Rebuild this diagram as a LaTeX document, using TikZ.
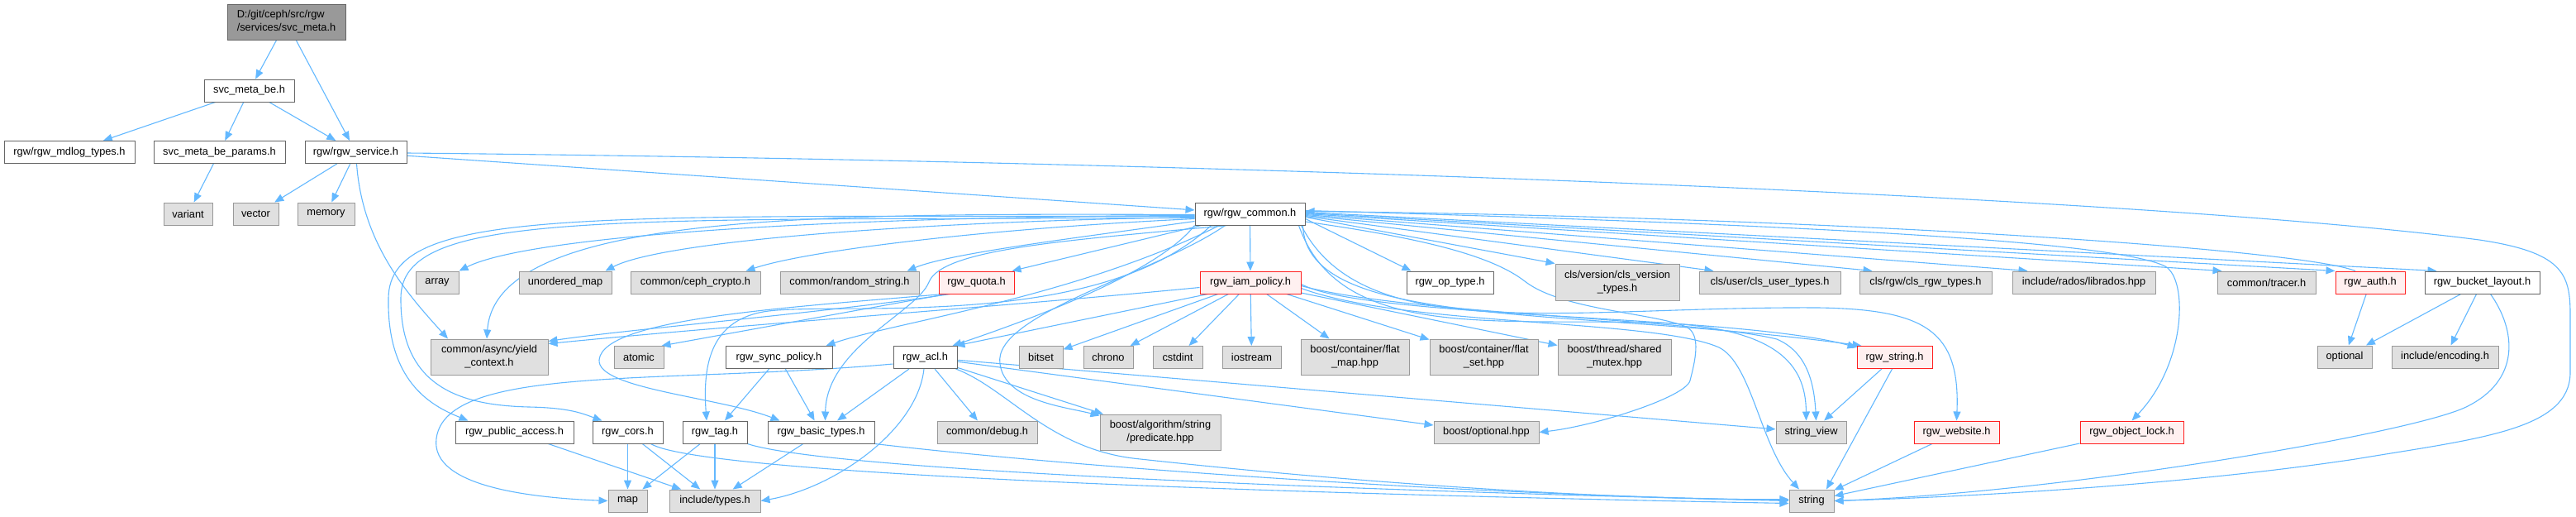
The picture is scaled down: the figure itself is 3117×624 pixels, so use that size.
\documentclass[tikz,border=0pt]{standalone}
\usepackage{fontspec}
\setmainfont{Liberation Sans}
\usetikzlibrary{arrows.meta}
\pgfdeclarelayer{bg}
\pgfsetlayers{bg,main}
\definecolor{edgec}{HTML}{63B8FF}
\definecolor{gfill}{HTML}{E0E0E0}
\definecolor{gdraw}{HTML}{999999}
\definecolor{wdraw}{HTML}{666666}
\definecolor{rfill}{HTML}{FFF0F0}
\definecolor{rdraw}{HTML}{FF2020}
\definecolor{mfill}{HTML}{999999}
\newcommand{\dgfont}{\fontsize{12.8pt}{16pt}\selectfont}
\tikzset{
  box/.style={rectangle, inner sep=0pt, minimum height=27, line width=1pt, font=\dgfont, align=center, text=black},
  wbox/.style={box, draw=wdraw, fill=white},
  gbox/.style={box, draw=gdraw, fill=gfill},
  rbox/.style={box, draw=rdraw, fill=rfill},
  mbox/.style={box, draw=wdraw, fill=mfill},
  dep/.style={draw=edgec, line width=1.1pt, -{Triangle[length=11pt,width=9pt]}}
}
\begin{document}
\begin{tikzpicture}[x=1pt,y=-1pt]
\useasboundingbox (0,0) rectangle (3117,624);
% nodes
\node[mbox, minimum width=143, minimum height=43, align=left] (main) at (346.5,26.5) {D:/git/ceph/src/rgw\\/services/svc\_meta.h};
\node[wbox, minimum width=109] (smbe) at (301.5,109.5) {svc\_meta\_be.h};
\node[wbox, minimum width=158] (mdlog) at (84,184) {rgw/rgw\_mdlog\_types.h};
\node[wbox, minimum width=159] (params) at (265.5,184) {svc\_meta\_be\_params.h};
\node[wbox, minimum width=123] (service) at (430.5,184) {rgw/rgw\_service.h};
\node[gbox, minimum width=59] (variant) at (227.5,258.5) {variant};
\node[gbox, minimum width=55] (vector) at (309.5,258.5) {vector};
\node[gbox, minimum width=69] (memory) at (394.5,258.5) {memory};
\node[wbox, minimum width=133] (common) at (1512.5,258.5) {rgw/rgw\_common.h};
\node[gbox, minimum width=52] (array) at (529,341.5) {array};
\node[gbox, minimum width=112] (umap) at (684,341.5) {unordered\_map};
\node[gbox, minimum width=157] (crypto) at (841.5,341.5) {common/ceph\_crypto.h};
\node[gbox, minimum width=168] (random) at (1028,341.5) {common/random\_string.h};
\node[rbox, minimum width=91] (quota) at (1181.5,341.5) {rgw\_quota.h};
\node[rbox, minimum width=122] (iam) at (1513,341.5) {rgw\_iam\_policy.h};
\node[wbox, minimum width=105] (optype) at (1754.5,341.5) {rgw\_op\_type.h};
\node[gbox, minimum width=150, minimum height=44] (clsver) at (1957,341) {cls/version/cls\_version\\\_types.h};
\node[gbox, minimum width=171] (clsuser) at (2141.5,341.5) {cls/user/cls\_user\_types.h};
\node[gbox, minimum width=160] (clsrgw) at (2330,341.5) {cls/rgw/cls\_rgw\_types.h};
\node[gbox, minimum width=173] (librados) at (2521.5,341.5) {include/rados/librados.hpp};
\node[gbox, minimum width=119] (tracer) at (2742.5,341.5) {common/tracer.h};
\node[rbox, minimum width=84] (auth) at (2868,341.5) {rgw\_auth.h};
\node[wbox, minimum width=139] (bucket) at (3003.5,341.5) {rgw\_bucket\_layout.h};
\node[gbox, minimum width=142, minimum height=43] (yield) at (592,431.5) {common/async/yield\\\_context.h};
\node[gbox, minimum width=60] (atomic) at (773,432) {atomic};
\node[wbox, minimum width=129] (sync) at (942.5,432) {rgw\_sync\_policy.h};
\node[wbox, minimum width=77] (acl) at (1119.5,432) {rgw\_acl.h};
\node[gbox, minimum width=53] (bitset) at (1259.5,432) {bitset};
\node[gbox, minimum width=60] (chrono) at (1341,432) {chrono};
\node[gbox, minimum width=60] (cstdint) at (1425,432) {cstdint};
\node[gbox, minimum width=71] (iostream) at (1514.5,432) {iostream};
\node[gbox, minimum width=131, minimum height=43] (flatmap) at (1639.5,431.5) {boost/container/flat\\\_map.hpp};
\node[gbox, minimum width=131, minimum height=43] (flatset) at (1795.5,431.5) {boost/container/flat\\\_set.hpp};
\node[gbox, minimum width=137, minimum height=43] (mutex) at (1953.5,431.5) {boost/thread/shared\\\_mutex.hpp};
\node[rbox, minimum width=91] (rgwstring) at (2292.5,432) {rgw\_string.h};
\node[gbox, minimum width=66] (optional) at (2837,431.5) {optional};
\node[gbox, minimum width=129] (encoding) at (2958.5,431.5) {include/encoding.h};
\node[wbox, minimum width=143] (public) at (622.5,522.5) {rgw\_public\_access.h};
\node[wbox, minimum width=85] (cors) at (759.5,522.5) {rgw\_cors.h};
\node[wbox, minimum width=78] (tag) at (865,522.5) {rgw\_tag.h};
\node[wbox, minimum width=129] (basic) at (993.5,522.5) {rgw\_basic\_types.h};
\node[gbox, minimum width=121] (debug) at (1194.5,522.5) {common/debug.h};
\node[gbox, minimum width=146, minimum height=43] (predicate) at (1404,522.5) {boost/algorithm/string\\/predicate.hpp};
\node[gbox, minimum width=127] (boostopt) at (1798.5,522.5) {boost/optional.hpp};
\node[gbox, minimum width=85] (strview) at (2191.5,522.5) {string\_view};
\node[rbox, minimum width=103] (website) at (2367.5,522.5) {rgw\_website.h};
\node[rbox, minimum width=125] (objlock) at (2579.5,522.5) {rgw\_object\_lock.h};
\node[gbox, minimum width=47] (map) at (759.5,605.5) {map};
\node[gbox, minimum width=110] (types) at (865,605.5) {include/types.h};
\node[gbox, minimum width=54] (string) at (2192,605.5) {string};
% edges
\begin{pgfonlayer}{bg}
\draw[dep] (main) -- (smbe);
\draw[dep] (main) -- (service);
\draw[dep] (smbe) -- (mdlog);
\draw[dep] (smbe) -- (params);
\draw[dep] (smbe) -- (service);
\draw[dep] (params) -- (variant);
\draw[dep] (service) -- (vector);
\draw[dep] (service) -- (memory);
\draw[dep] (service) -- (common);
\draw[dep] ([yshift=-1]service.east) .. controls (1500,195) and (2600,238) .. (3000,290) .. controls (3100,305) and (3110,330) .. (3110,380) -- (3110,450) .. controls (3110,520) and (3000,530) .. (2850,555) .. controls (2650,585) and (2400,600) .. (string.east);
\draw[dep] (service) .. controls +(8,110) and +(-50,-55) .. ([xshift=-50]yield.north);
% rgw_common to the left
\draw[dep] ([yshift=-2]common.west) .. controls (1000,262) and (640,285) .. (array.north east);
\draw[dep] ([yshift=-4]common.west) .. controls (1100,268) and (800,292) .. ([xshift=-8]umap.north east);
\draw[dep] ([yshift=-6]common.west) .. controls (1200,276) and (980,302) .. ([xshift=-18]crypto.north east);
\draw[dep] ([yshift=-9]common.west) .. controls (1300,288) and (1150,306) .. ([xshift=-15]random.north east);
\draw[dep] ([xshift=8]common.south west) -- ([xshift=-3]quota.north east);
\draw[dep] ([yshift=-1]common.west) .. controls (1000,258) and (600,255) .. ([xshift=-3]yield.north);
\draw[dep] ([yshift=-3]common.west) .. controls (700,262) and (472,250) .. (470,360) .. controls (468,460) and (520,490) .. ([xshift=16]public.north west);
\draw[dep] ([yshift=-5]common.west) .. controls (720,266) and (486,255) .. (485,360) .. controls (484,470) and (560,490) .. (640,492) .. controls (690,493) and (705,500) .. ([xshift=12]cors.north west);
\draw[dep] ([xshift=20]common.south west) .. controls (1330,400) and (1020,365) .. (930,376) .. controls (860,385) and (850,440) .. ([xshift=-10]tag.north);
\draw[dep] ([xshift=30]common.south west) .. controls (1300,360) and (1080,390) .. ([xshift=-8]sync.north east);
\draw[dep] ([xshift=40]common.south west) .. controls (1300,290) and (1140,300) .. (1124,341) .. controls (1110,377) and (1000,420) .. ([xshift=5]basic.north);
\draw[dep] (common.south west) .. controls (1400,330) and (1250,385) .. ([xshift=-6]acl.north east);
\draw[dep] ([xshift=-30]common.south) .. controls (1400,330) and (1200,380) .. (1210,440) .. controls (1216,485) and (1290,492) .. ([yshift=-2]predicate.north west);
\draw[dep] (common) -- (iam);
% rgw_common to the right
\draw[dep] ([yshift=-6]common.east) -- ([xshift=6]optype.north west);
\draw[dep] ([yshift=-4]common.east) -- (clsver.north west);
\draw[dep] ([yshift=-3]common.east) -- ([xshift=18]clsuser.north west);
\draw[dep] ([yshift=-2]common.east) -- ([xshift=16]clsrgw.north west);
\draw[dep] ([yshift=-1]common.east) -- ([xshift=19]librados.north west);
\draw[dep] (common.east) -- ([xshift=6]tracer.north west);
\draw[dep] ([yshift=1]common.east) -- (auth.north west);
\draw[dep] ([yshift=2]common.east) -- ([xshift=15]bucket.north west);
\draw[dep] ([xshift=-18]auth.north) .. controls (2780,300) and (2200,262) .. ([yshift=3]common.east);
\draw[dep] ([xshift=-3]common.south east) .. controls (1580,400) and (1900,370) .. ([xshift=6]rgwstring.north west);
\draw[dep] ([xshift=-8]common.south east) .. controls (1620,410) and (1800,385) .. (2000,390) .. controls (2150,395) and (2185,440) .. ([xshift=-6]strview.north);
\draw[dep] ([xshift=-5]common.south east) .. controls (1650,420) and (1900,370) .. (2200,372) .. controls (2330,374) and (2372,400) .. (website.north);
\draw[dep] ([yshift=4]common.east) .. controls (2200,272) and (2560,292) .. (2620,322) .. controls (2648,338) and (2645,440) .. (objlock.north);
\draw[dep] (common) .. controls (1700,285) and (1800,305) .. (1845,340) .. controls (1890,375) and (2000,378) .. (2040,395) .. controls (2060,404) and (2050,440) .. (2045,460) .. controls (2040,480) and (1930,515) .. (boostopt.east);
% rgw_iam_policy
\draw[dep] (iam) -- (bitset);
\draw[dep] (iam) -- (chrono);
\draw[dep] (iam) -- (cstdint);
\draw[dep] (iam) -- (iostream);
\draw[dep] (iam) -- (flatmap);
\draw[dep] (iam) -- (flatset);
\draw[dep] (iam) -- (mutex);
\draw[dep] ([xshift=10]iam.south west) -- ([xshift=-2]acl.north east);
\draw[dep] ([yshift=-6]iam.west) .. controls (1200,372) and (900,392) .. ([yshift=-6]yield.north east);
\draw[dep] ([yshift=-2]iam.east) .. controls (1650,385) and (2100,380) .. ([yshift=-2]rgwstring.north west);
\draw[dep] ([yshift=-4]iam.east) .. controls (1700,380) and (2050,385) .. (2150,410) .. controls (2185,425) and (2195,460) .. ([xshift=6]strview.north);
\draw[dep] ([yshift=-7]iam.east) .. controls (1700,395) and (2000,385) .. (2080,420) .. controls (2120,440) and (2130,540) .. ([xshift=-15]string.north);
% rgw_quota
\draw[dep] ([xshift=10]quota.south west) -- ([xshift=-3]atomic.north east);
\draw[dep] ([xshift=14]quota.south west) .. controls (1000,378) and (760,398) .. ([yshift=-3]yield.north east);
\draw[dep] ([xshift=6]quota.south west) .. controls (950,372) and (730,385) .. (725,435) .. controls (722,470) and (870,480) .. ([xshift=15]basic.north west);
% rgw_acl
\draw[dep] (acl) -- (basic);
\draw[dep] (acl) -- (debug);
\draw[dep] (acl) -- (predicate);
\draw[dep] (acl) -- (boostopt);
\draw[dep] (acl) -- (strview);
\draw[dep] (acl) .. controls (1110,520) and (1010,590) .. (types.east);
\draw[dep] ([yshift=-8]acl.west) .. controls (800,465) and (540,440) .. (528,530) .. controls (520,590) and (650,602) .. (map.west);
\draw[dep] (acl) .. controls (1220,470) and (1270,545) .. (1380,555) .. controls (1700,590) and (2000,605) .. ([yshift=2]string.west);
% sync, public, cors, tag, basic
\draw[dep] (sync) -- (tag);
\draw[dep] (sync) -- (basic);
\draw[dep] (public) -- (types);
\draw[dep] (cors) -- (map);
\draw[dep] (cors) -- (types);
\draw[dep] ([xshift=-15]cors.south east) .. controls (850,575) and (1600,598) .. ([yshift=-3]string.west);
\draw[dep] (tag) -- (map);
\draw[dep] (tag) -- (types);
\draw[dep] (tag.south east) .. controls (1000,568) and (1600,592) .. (string.west);
\draw[dep] (basic) -- (types);
\draw[dep] (basic.south east) .. controls (1300,565) and (1800,600) .. ([yshift=1]string.west);
% right side
\draw[dep] (rgwstring) -- (strview);
\draw[dep] ([xshift=-3]rgwstring.south) -- ([xshift=18]string.north);
\draw[dep] (website) -- (string);
\draw[dep] (objlock) -- (string);
\draw[dep] (auth) -- (optional);
\draw[dep] (bucket) -- (optional);
\draw[dep] (bucket) -- (encoding);
\draw[dep] ([xshift=10]bucket.south) .. controls (3045,400) and (3050,460) .. (2984,492) .. controls (2918,524) and (2500,595) .. (string.east);
\end{pgfonlayer}
\end{tikzpicture}
\end{document}
